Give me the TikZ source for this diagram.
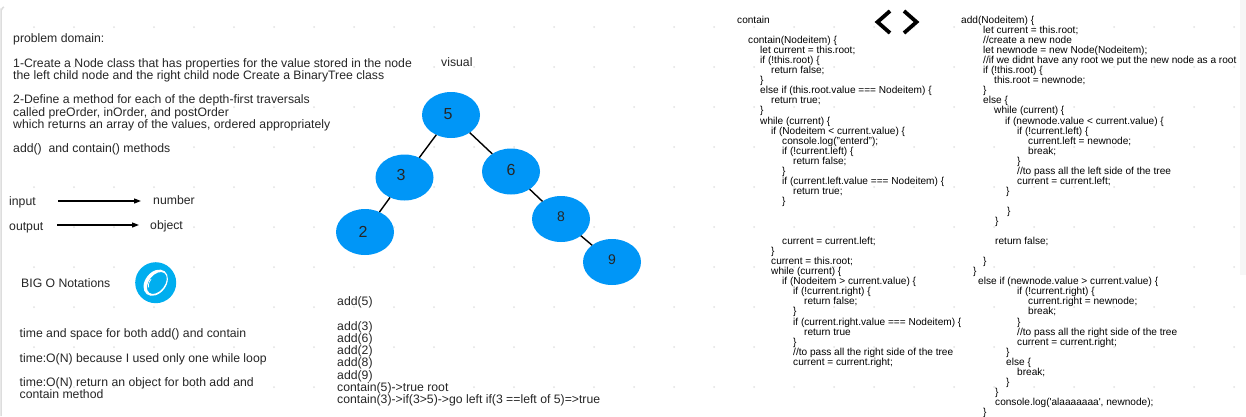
\documentclass[tikz,border=0pt]{standalone}
\usepackage{fontspec}
\setmainfont{Liberation Sans}
\usetikzlibrary{shapes.geometric,arrows.meta}
\definecolor{treeblue}{HTML}{0096F7}
\definecolor{logoblue}{HTML}{00AEEF}
\definecolor{griddot}{HTML}{E2E2E2}
\definecolor{edgegray}{HTML}{DDDDDD}
\definecolor{panelgray}{HTML}{F6F6F6}
\definecolor{inktext}{HTML}{262626}
\newcommand{\codeln}[2]{\hspace*{#1pt}#2\\}
\tikzset{
    notetext/.style={inner sep=0pt,anchor=north west,align=left,text=inktext,font=\fontsize{12.24}{12.25}\selectfont},
    codetext/.style={inner sep=0pt,anchor=north west,align=left,text=black,font=\fontsize{10.1}{10.05}\selectfont},
    treenode/.style={ellipse,fill=treeblue,minimum width=58pt,minimum height=46pt,inner sep=0pt,outer sep=0pt},
    treeedge/.style={line width=1.4pt,black},
    treelabel/.style={inner sep=0pt,text=black!85},
    flowline/.style={line width=1.2pt,-{Triangle[length=7pt,width=5pt]}},
}
\begin{document}
\begin{tikzpicture}[x=1pt,y=-1pt]
    \useasboundingbox (0,0) rectangle (1246,416);
    \fill[white] (0,0) rectangle (1246,416);
    \fill[panelgray] (1240,0) rectangle (1246,275);
    \draw[edgegray,line width=1.5pt] (1,416) -- (1,10) to[out=-90,in=180] (4,7);
    \foreach \gx in {0,...,30}
        \foreach \gy in {0,...,9}
            \fill[griddot] (34+40*\gx,27+40*\gy) circle (1pt);

    \node[notetext] (problem) at (13,33.5) {problem domain:\\
        \mbox{}\\
        1-Create a Node class that has properties for the value stored in the node\\
        the left child node and the right child node Create a BinaryTree class\\
        \mbox{}\\
        2-Define a method for each of the depth-first traversals\\
        called preOrder, inOrder, and postOrder\\
        which returns an array of the values, ordered appropriately\\
        \mbox{}\\
        add()\ \ and contain() methods};
    \node[notetext] (visual) at (441,57.5) {visual};

    \node[notetext] (input) at (9,196.5) {input};
    \node[notetext] (output) at (9,222) {output};
    \node[notetext] (number) at (153,195) {number};
    \node[notetext] (object) at (150,220.5) {object};
    \coordinate (inputstart) at (58,201);
    \coordinate (inputend) at (141,201);
    \coordinate (outputstart) at (57,225);
    \coordinate (outputend) at (139,225);
    \draw[flowline] (inputstart) -- (inputend);
    \draw[flowline] (outputstart) -- (outputend);

    \node[notetext] (bigo) at (21,278.5) {BIG O Notations};
    \node[circle,fill=logoblue,minimum size=41pt,inner sep=0pt] (logo) at (155.7,282.7) {};
    \fill[white,even odd rule,rotate around={52:(logo)}]
        (logo) ellipse (14.5pt and 10.5pt)
        ([xshift=0.5pt,yshift=-1.1pt]logo) ellipse (12.5pt and 8pt);
    \draw[white,line width=0.7pt,rotate around={52:(logo)}]
        ([xshift=-8pt,yshift=2.5pt]logo) arc (170:90:8pt and 4pt);

    \node[notetext] (complexity) at (19.5,328.5) {time and space for both add() and contain\\
        \mbox{}\\
        time:O(N) because I used only one while loop\\
        \mbox{}\\
        time:O(N) return an object for both add and\\
        contain method};

    \node[treenode] (n5) at (451,115) {};
    \node[treenode] (n3) at (404.5,177.5) {};
    \node[treenode] (n6) at (511,171.5) {};
    \node[treenode] (n2) at (365,232) {};
    \node[treenode] (n8) at (561,219) {};
    \node[treenode] (n9) at (612,262) {};
    \draw[treeedge] (n5) -- (n3);
    \draw[treeedge] (n5) -- (n6);
    \draw[treeedge] (n3) -- (n2);
    \draw[treeedge] (n6) -- (n8);
    \draw[treeedge] (n8) -- (n9);
    \node[treelabel,font=\fontsize{16}{16}\selectfont] (t5) at (448,114) {5};
    \node[treelabel,font=\fontsize{16}{16}\selectfont] (t3) at (401,175) {3};
    \node[treelabel,font=\fontsize{16}{16}\selectfont] (t6) at (511,170) {6};
    \node[treelabel,font=\fontsize{16}{16}\selectfont] (t2) at (363,232) {2};
    \node[treelabel,font=\fontsize{14}{14}\selectfont] (t8) at (561,217) {8};
    \node[treelabel,font=\fontsize{14}{14}\selectfont] (t9) at (612,260) {9};

    \node[notetext] (calls) at (337,296.5) {add(5)\\
        \mbox{}\\
        add(3)\\
        add(6)\\
        add(2)\\
        add(8)\\
        add(9)\\
        contain(5)->true root\\
        contain(3)->if(3>5)->go left if(3 ==left of 5)=>true};

    \draw[black,line width=3.8pt] (890,11) -- (877.5,22) -- (890,33);
    \draw[black,line width=3.8pt] (904,11) -- (916.5,22) -- (904,33);

    \node[codetext] (containcode) at (737,16) {contain\\
        \mbox{}\\
        \codeln{11}{contain(Nodeitem) \{}
        \codeln{23}{let current = this.root;}
        \codeln{23}{if (!this.root) \{}
        \codeln{34}{return false;}
        \codeln{23}{\}}
        \codeln{23}{else if (this.root.value === Nodeitem) \{}
        \codeln{34}{return true;}
        \codeln{23}{\}}
        \codeln{23}{while (current) \{}
        \codeln{34}{if (Nodeitem < current.value) \{}
        \codeln{45}{console.log("enterd");}
        \codeln{45}{if (!current.left) \{}
        \codeln{56}{return false;}
        \codeln{45}{\}}
        \codeln{45}{if (current.left.value === Nodeitem) \{}
        \codeln{56}{return true;}
        \codeln{45}{\}}
        \mbox{}\\
        \mbox{}\\
        \mbox{}\\
        \codeln{45}{current = current.left;}
        \codeln{34}{\}}
        \codeln{34}{current = this.root;}
        \codeln{34}{while (current) \{}
        \codeln{45}{if (Nodeitem > current.value) \{}
        \codeln{56}{if (!current.right) \{}
        \codeln{67}{return false;}
        \codeln{56}{\}}
        \codeln{56}{if (current.right.value === Nodeitem) \{}
        \codeln{67}{return true}
        \codeln{56}{\}}
        \codeln{56}{//to pass all the right side of the tree}
        \hspace*{56pt}current = current.right;};

    \node[codetext] (addcode) at (961,16) {add(Nodeitem) \{\\
        \codeln{22}{let current = this.root;}
        \codeln{22}{//create a new node}
        \codeln{22}{let newnode = new Node(Nodeitem);}
        \codeln{22}{//if we didnt have any root we put the new node as a root}
        \codeln{22}{if (!this.root) \{}
        \codeln{33}{this.root = newnode;}
        \codeln{22}{\}}
        \codeln{22}{else \{}
        \codeln{33}{while (current) \{}
        \codeln{44}{if (newnode.value < current.value) \{}
        \codeln{56}{if (!current.left) \{}
        \codeln{67}{current.left = newnode;}
        \codeln{67}{break;}
        \codeln{56}{\}}
        \codeln{56}{//to pass all the left side of the tree}
        \codeln{56}{current = current.left;}
        \codeln{45}{\}}
        \mbox{}\\
        \codeln{46}{\}}
        \codeln{34}{\}}
        \mbox{}\\
        \codeln{34}{return false;}
        \mbox{}\\
        \codeln{22}{\}}
        \codeln{12}{\}}
        \codeln{17}{else if (newnode.value > current.value) \{}
        \codeln{56}{if (!current.right) \{}
        \codeln{67}{current.right = newnode;}
        \codeln{67}{break;}
        \codeln{56}{\}}
        \codeln{56}{//to pass all the right side of the tree}
        \codeln{56}{current = current.right;}
        \codeln{45}{\}}
        \codeln{45}{else \{}
        \codeln{56}{break;}
        \codeln{45}{\}}
        \codeln{34}{\}}
        \codeln{34}{console.log(\textquotesingle alaaaaaaa\textquotesingle, newnode);}
        \hspace*{22pt}\}};
\end{tikzpicture}
\end{document}
